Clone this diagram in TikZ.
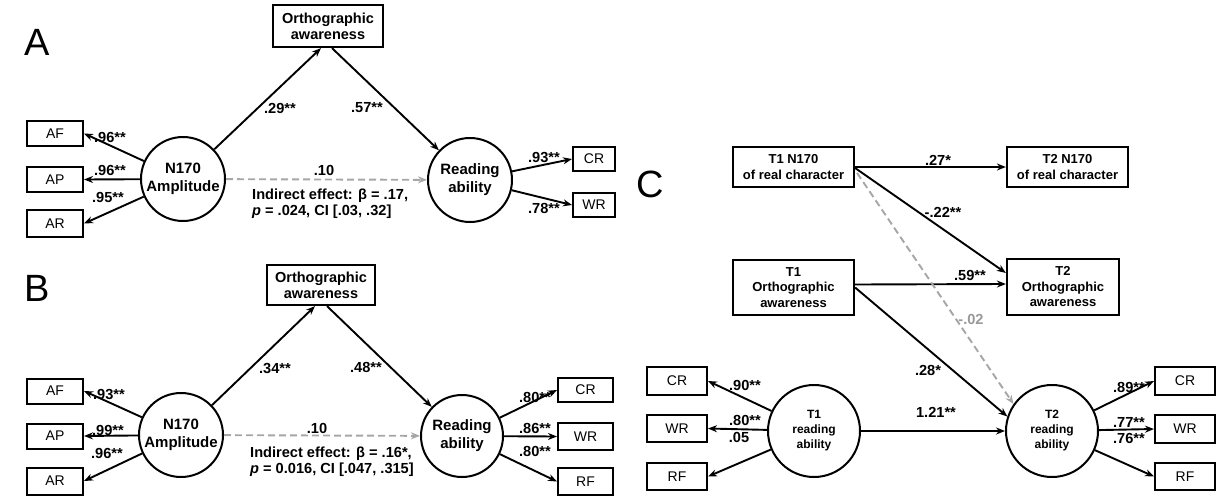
\documentclass[tikz,border=0pt]{standalone}
\usepackage{fontspec}
\setmainfont{Liberation Sans}
\usetikzlibrary{arrows.meta,calc}
\tikzset{
  box/.style={draw, line width=2.2pt, inner sep=1pt, align=center,
    font=\fontsize{14.5}{16}\selectfont\bfseries},
  cbox/.style={box, minimum width=121, font=\fontsize{13}{15.5}\selectfont\bfseries},
  ind/.style={draw, line width=2pt, inner sep=0pt, minimum width=56,
    minimum height=25, font=\fontsize{14}{14}\selectfont},
  lat/.style={draw, circle, line width=2pt, inner sep=0pt, minimum size=84,
    align=center, font=\fontsize{15}{18}\selectfont\bfseries},
  clat/.style={lat, minimum size=92, font=\fontsize{12}{15}\selectfont\bfseries},
  coef/.style={inner sep=0pt, font=\fontsize{14.6}{16}\selectfont\bfseries},
  panel/.style={inner sep=0pt, font=\fontsize{38}{38}\selectfont},
  arr/.style={-{Stealth[length=9pt,width=7pt]}, line width=1.9pt},
  ns/.style={arr, draw=black!35, dash pattern=on 7pt off 4pt}
}
\begin{document}
\begin{tikzpicture}[x=1pt,y=-1pt]
  \useasboundingbox (0,0) rectangle (1216,498);
  % A
  \path
    (37,42) node[panel] (pA) {A}
    (328,26) node[box, minimum width=110, minimum height=42] (orthoA) {Orthographic\\awareness}
    (183,179) node[lat] (nA) {N170\\Amplitude}
    (470,180) node[lat] (readA) {Reading\\ability}
    (55,133.5) node[ind] (afA) {AF}
    (55,179.5) node[ind] (apA) {AP}
    (55,223.5) node[ind, minimum height=27] (arA) {AR}
    (594,159) node[ind, minimum width=42, minimum height=24] (crA) {CR}
    (594,205) node[ind, minimum width=42, minimum height=24] (wrA) {WR};
  \path[coef]
    (110,137) node (cAfA) {.96**}
    (110,170) node (cApA) {.96**}
    (108,197) node (cArA) {.95**}
    (280,108) node (cNoA) {.29**}
    (367,108) node (cOrA) {.57**}
    (324,170) node (cNrA) {.10}
    (252,204) node[anchor=west, align=left] (indA) {Indirect effect: β = .17,\\\textit{p} = .024, CI [.03, .32]}
    (544,157) node (cCrA) {.93**}
    (544,208) node (cWrA) {.78**};
  \begin{scope}[arr]
    \draw (nA) -- (afA.east);
    \draw (nA) -- (apA.east);
    \draw (nA) -- (arA.east);
    \draw (nA) -- ($(orthoA.south)+(-7,0)$);
    \draw ($(orthoA.south)+(4,0)$) -- (readA);
    \draw[ns] (nA) -- (readA);
    \draw (readA) -- (crA.west);
    \draw (readA) -- (wrA.west);
  \end{scope}
  % B
  \path
    (37,288) node[panel] (pB) {B}
    (321,285) node[box, minimum width=108, minimum height=40] (orthoB) {Orthographic\\awareness}
    (181,435) node[lat] (nB) {N170\\Amplitude}
    (462,436) node[lat, minimum size=82] (readB) {Reading\\ability}
    (55,391) node[ind] (afB) {AF}
    (55,436) node[ind] (apB) {AP}
    (55,481) node[ind, minimum height=27] (arB) {AR}
    (585.5,390) node[ind, minimum width=55, minimum height=24] (crB) {CR}
    (585.5,436.5) node[ind, minimum width=55, minimum height=27] (wrB) {WR}
    (585.5,481.5) node[ind, minimum width=55, minimum height=27] (rfB) {RF};
  \path[coef]
    (109,394) node (cAfB) {.93**}
    (108,430) node (cApB) {.99**}
    (107,453) node (cArB) {.96**}
    (275,368) node (cNoB) {.34**}
    (366,367) node (cOrB) {.48**}
    (317,428) node (cNrB) {.10}
    (250,462) node[anchor=west, align=left] (indB) {Indirect effect: β = .16*,\\\textit{p} = 0.016, CI [.047, .315]}
    (535,397) node (cCrB) {.80**}
    (535,428) node (cWrB) {.86**}
    (535,451) node (cRfB) {.80**};
  \begin{scope}[arr]
    \draw (nB) -- (afB.east);
    \draw (nB) -- (apB.east);
    \draw (nB) -- (arB.east);
    \draw (nB) -- ($(orthoB.south)+(-6,0)$);
    \draw ($(orthoB.south)+(6,0)$) -- (readB);
    \draw[ns] (nB) -- (readB);
    \draw (readB) -- (crB.west);
    \draw (readB) -- (wrB.west);
    \draw (readB) -- (rfB.west);
  \end{scope}
  % C
  \path
    (650,184) node[panel] (pC) {C}
    (793.5,167) node[cbox, minimum height=40] (t1n) {T1 N170\\of real character}
    (793.5,287.5) node[cbox, minimum height=55] (t1o) {T1\\Orthographic\\awareness}
    (1067.5,167) node[cbox, minimum height=40] (t2n) {T2 N170\\of real character}
    (1063,287) node[cbox, minimum width=112, minimum height=56] (t2o) {T2\\Orthographic\\awareness}
    (814,431) node[clat] (t1r) {T1\\reading\\ability}
    (1052,431) node[clat] (t2r) {T2\\reading\\ability}
    (677,381) node[ind, minimum width=60, minimum height=28] (crL) {CR}
    (677,428.5) node[ind, minimum width=60, minimum height=27] (wrL) {WR}
    (677,476.5) node[ind, minimum width=60, minimum height=27] (rfL) {RF}
    (1185,381) node[ind, minimum width=60, minimum height=28] (crR) {CR}
    (1185,429) node[ind, minimum width=60, minimum height=28] (wrR) {WR}
    (1185,476.5) node[ind, minimum width=60, minimum height=27] (rfR) {RF};
  \path[coef]
    (938,160) node (cNn) {.27*}
    (943,212) node (cNo) {-.22**}
    (970,275) node (cOo) {.59**}
    (971,319) node[text=black!40] (cNr) {-.02}
    (928,370) node (cOr) {.28*}
    (936,412) node (cRr) {1.21**}
    (745,385) node (cCrL) {.90**}
    (745,420) node (cWrL) {.80**}
    (739,437) node (cRfL) {.05}
    (1129,387) node (cCrR) {.89**}
    (1129,422) node (cWrR) {.77**}
    (1129,438) node (cRfR) {.76**};
  \begin{scope}[arr]
    \draw (t1n) -- (t2n);
    \draw ($(t1n.east)+(0,1)$) -- ($(t2o.west)+(0,-14)$);
    \draw ($(t1o.east)+(0,-3)$) -- ($(t2o.west)+(0,-3)$);
    \draw (t1o.east) -- (t2r.162);
    \draw[ns] ($(t1n.east)+(2,6)$) -- (t2r.145);
    \draw (t1r) -- (t2r);
    \draw (t1r) -- (crL.east);
    \draw (t1r) -- (wrL.east);
    \draw (t1r) -- (rfL.east);
    \draw (t2r) -- (crR.west);
    \draw (t2r) -- (wrR.west);
    \draw (t2r) -- (rfR.west);
  \end{scope}
\end{tikzpicture}
\end{document}
